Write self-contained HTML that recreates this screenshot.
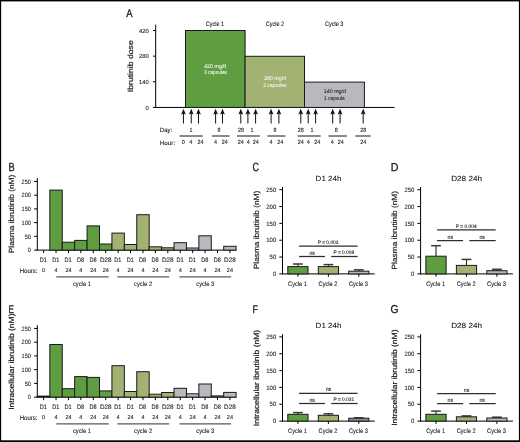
<!DOCTYPE html>
<html><head><meta charset="utf-8"><style>
html,body{margin:0;padding:0;background:#fff;width:520px;height:442px;overflow:hidden}
svg{display:block;will-change:transform;text-rendering:geometricPrecision}
text{font-family:"Liberation Sans", sans-serif}
</style></head><body>
<svg width="520" height="442" viewBox="0 0 520 442">
<rect width="520" height="442" fill="#fff"/>
<rect x="0" y="0" width="520" height="1.4" fill="#000"/>
<rect x="0" y="0" width="1.15" height="442" fill="#000"/>
<rect x="518.9" y="0" width="1.1" height="442" fill="#000"/>
<rect x="0" y="440.3" width="520" height="1.7" fill="#000"/>
<text x="126.18" y="17" font-size="11.19" fill="#1a1a1a" textLength="6.24" lengthAdjust="spacingAndGlyphs" stroke="#1a1a1a" stroke-width="0.3">A</text>
<text x="8.54" y="170.6" font-size="11.77" fill="#1a1a1a" textLength="6.14" lengthAdjust="spacingAndGlyphs" stroke="#1a1a1a" stroke-width="0.3">B</text>
<text x="252.44" y="170.68" font-size="12.01" fill="#1a1a1a" textLength="6.5" lengthAdjust="spacingAndGlyphs" stroke="#1a1a1a" stroke-width="0.3">C</text>
<text x="390.63" y="170.6" font-size="11.48" fill="#1a1a1a" textLength="7.68" lengthAdjust="spacingAndGlyphs" stroke="#1a1a1a" stroke-width="0.3">D</text>
<text x="8.53" y="312.6" font-size="10.9" fill="#1a1a1a" textLength="5.41" lengthAdjust="spacingAndGlyphs" stroke="#1a1a1a" stroke-width="0.3">E</text>
<text x="252.46" y="312.6" font-size="10.9" fill="#1a1a1a" textLength="5.5" lengthAdjust="spacingAndGlyphs" stroke="#1a1a1a" stroke-width="0.3">F</text>
<text x="390.58" y="312.69" font-size="11.44" fill="#1a1a1a" textLength="7.98" lengthAdjust="spacingAndGlyphs" stroke="#1a1a1a" stroke-width="0.3">G</text>
<line x1="155.7" y1="24.7" x2="155.7" y2="107.95" stroke="#000" stroke-width="1"/>
<line x1="155.2" y1="107.45" x2="394.5" y2="107.45" stroke="#000" stroke-width="1"/>
<line x1="153" y1="107.45" x2="155.7" y2="107.45" stroke="#000" stroke-width="1"/>
<text x="148.8" y="109.65" font-size="5.9" text-anchor="end" fill="#1a1a1a" textLength="3.24" lengthAdjust="spacingAndGlyphs" stroke="#1a1a1a" stroke-width="0.1">0</text>
<line x1="153" y1="81.8" x2="155.7" y2="81.8" stroke="#000" stroke-width="1"/>
<text x="148.8" y="84" font-size="5.9" text-anchor="end" fill="#1a1a1a" textLength="9.72" lengthAdjust="spacingAndGlyphs" stroke="#1a1a1a" stroke-width="0.1">140</text>
<line x1="153" y1="56.15" x2="155.7" y2="56.15" stroke="#000" stroke-width="1"/>
<text x="148.8" y="58.35" font-size="5.9" text-anchor="end" fill="#1a1a1a" textLength="9.72" lengthAdjust="spacingAndGlyphs" stroke="#1a1a1a" stroke-width="0.1">280</text>
<line x1="153" y1="30.5" x2="155.7" y2="30.5" stroke="#000" stroke-width="1"/>
<text x="148.8" y="32.7" font-size="5.9" text-anchor="end" fill="#1a1a1a" textLength="9.72" lengthAdjust="spacingAndGlyphs" stroke="#1a1a1a" stroke-width="0.1">420</text>
<text x="132.6" y="92.2" font-size="7.5" fill="#1a1a1a" textLength="51.9" lengthAdjust="spacingAndGlyphs" transform="rotate(-90 132.6 92.2)" stroke="#1a1a1a" stroke-width="0.18">Ibrutinib dose</text>
<rect x="185.5" y="30.5" width="59.6" height="76.95" fill="#5f9e40" stroke="#1a1a1a" stroke-width="1"/>
<rect x="245.1" y="56.3" width="59.4" height="51.15" fill="#a1b273" stroke="#1a1a1a" stroke-width="1"/>
<rect x="304.5" y="82.1" width="59.9" height="25.35" fill="#bab7be" stroke="#1a1a1a" stroke-width="1"/>
<text x="214.93" y="25.78" font-size="6.3" text-anchor="middle" fill="#1a1a1a" textLength="18.4" lengthAdjust="spacingAndGlyphs" stroke="#1a1a1a" stroke-width="0.1">Cycle 1</text>
<text x="274.9" y="25.78" font-size="6.3" text-anchor="middle" fill="#1a1a1a" textLength="18.4" lengthAdjust="spacingAndGlyphs" stroke="#1a1a1a" stroke-width="0.1">Cycle 2</text>
<text x="334.2" y="25.78" font-size="6.3" text-anchor="middle" fill="#1a1a1a" textLength="18.4" lengthAdjust="spacingAndGlyphs" stroke="#1a1a1a" stroke-width="0.1">Cycle 3</text>
<text x="215.24" y="67.9" font-size="5.4" text-anchor="middle" fill="#eef2e8" textLength="22.2" lengthAdjust="spacingAndGlyphs" stroke="#eef2e8" stroke-width="0.1">420 mg/d</text>
<text x="215.5" y="74.1" font-size="5.4" text-anchor="middle" fill="#eef2e8" textLength="22.9" lengthAdjust="spacingAndGlyphs" stroke="#eef2e8" stroke-width="0.1">3 capsules</text>
<text x="275.1" y="80.3" font-size="5.4" text-anchor="middle" fill="#eef2e8" textLength="22.2" lengthAdjust="spacingAndGlyphs" stroke="#eef2e8" stroke-width="0.1">280 mg/d</text>
<text x="274.9" y="86.55" font-size="5.4" text-anchor="middle" fill="#eef2e8" textLength="23.2" lengthAdjust="spacingAndGlyphs" stroke="#eef2e8" stroke-width="0.1">2 capsules</text>
<text x="334.9" y="93.3" font-size="5.4" text-anchor="middle" fill="#2a2a2a" textLength="22.2" lengthAdjust="spacingAndGlyphs" stroke="#2a2a2a" stroke-width="0.1">140 mg/d</text>
<text x="334.4" y="99.55" font-size="5.4" text-anchor="middle" fill="#2a2a2a" textLength="20.8" lengthAdjust="spacingAndGlyphs" stroke="#2a2a2a" stroke-width="0.1">1 capsule</text>
<line x1="183.45" y1="113" x2="183.45" y2="123.5" stroke="#111" stroke-width="1"/>
<path d="M183.45 108.8 L185.85 114.6 L183.45 113.4 L181.05 114.6 Z" fill="#111"/>
<line x1="191.24" y1="113" x2="191.24" y2="123.5" stroke="#111" stroke-width="1"/>
<path d="M191.24 108.8 L193.64 114.6 L191.24 113.4 L188.84 114.6 Z" fill="#111"/>
<line x1="198.5" y1="113" x2="198.5" y2="123.5" stroke="#111" stroke-width="1"/>
<path d="M198.5 108.8 L200.90 114.6 L198.5 113.4 L196.10 114.6 Z" fill="#111"/>
<line x1="215.6" y1="113" x2="215.6" y2="123.5" stroke="#111" stroke-width="1"/>
<path d="M215.6 108.8 L218.00 114.6 L215.6 113.4 L213.20 114.6 Z" fill="#111"/>
<line x1="222.5" y1="113" x2="222.5" y2="123.5" stroke="#111" stroke-width="1"/>
<path d="M222.5 108.8 L224.90 114.6 L222.5 113.4 L220.10 114.6 Z" fill="#111"/>
<line x1="240.8" y1="113" x2="240.8" y2="123.5" stroke="#111" stroke-width="1"/>
<path d="M240.8 108.8 L243.20 114.6 L240.8 113.4 L238.40 114.6 Z" fill="#111"/>
<line x1="247.9" y1="113" x2="247.9" y2="123.5" stroke="#111" stroke-width="1"/>
<path d="M247.9 108.8 L250.30 114.6 L247.9 113.4 L245.50 114.6 Z" fill="#111"/>
<line x1="255.6" y1="113" x2="255.6" y2="123.5" stroke="#111" stroke-width="1"/>
<path d="M255.6 108.8 L258.00 114.6 L255.6 113.4 L253.20 114.6 Z" fill="#111"/>
<line x1="271.1" y1="113" x2="271.1" y2="123.5" stroke="#111" stroke-width="1"/>
<path d="M271.1 108.8 L273.50 114.6 L271.1 113.4 L268.70 114.6 Z" fill="#111"/>
<line x1="278.9" y1="113" x2="278.9" y2="123.5" stroke="#111" stroke-width="1"/>
<path d="M278.9 108.8 L281.30 114.6 L278.9 113.4 L276.50 114.6 Z" fill="#111"/>
<line x1="300.8" y1="113" x2="300.8" y2="123.5" stroke="#111" stroke-width="1"/>
<path d="M300.8 108.8 L303.20 114.6 L300.8 113.4 L298.40 114.6 Z" fill="#111"/>
<line x1="308.2" y1="113" x2="308.2" y2="123.5" stroke="#111" stroke-width="1"/>
<path d="M308.2 108.8 L310.60 114.6 L308.2 113.4 L305.80 114.6 Z" fill="#111"/>
<line x1="315.6" y1="113" x2="315.6" y2="123.5" stroke="#111" stroke-width="1"/>
<path d="M315.6 108.8 L318.00 114.6 L315.6 113.4 L313.20 114.6 Z" fill="#111"/>
<line x1="332.7" y1="113" x2="332.7" y2="123.5" stroke="#111" stroke-width="1"/>
<path d="M332.7 108.8 L335.10 114.6 L332.7 113.4 L330.30 114.6 Z" fill="#111"/>
<line x1="340.1" y1="113" x2="340.1" y2="123.5" stroke="#111" stroke-width="1"/>
<path d="M340.1 108.8 L342.50 114.6 L340.1 113.4 L337.70 114.6 Z" fill="#111"/>
<line x1="363.2" y1="113" x2="363.2" y2="123.5" stroke="#111" stroke-width="1"/>
<path d="M363.2 108.8 L365.60 114.6 L363.2 113.4 L360.80 114.6 Z" fill="#111"/>
<text x="159.83" y="132.17" font-size="6.2" fill="#1a1a1a" textLength="12.3" lengthAdjust="spacingAndGlyphs" stroke="#1a1a1a" stroke-width="0.1">Day:</text>
<text x="159.81" y="144.52" font-size="6" fill="#1a1a1a" textLength="15.35" lengthAdjust="spacingAndGlyphs" stroke="#1a1a1a" stroke-width="0.1">Hour:</text>
<text x="191" y="132.05" font-size="6" text-anchor="middle" fill="#1a1a1a" textLength="3" lengthAdjust="spacingAndGlyphs" stroke="#1a1a1a" stroke-width="0.1">1</text>
<text x="219" y="132.05" font-size="6" text-anchor="middle" fill="#1a1a1a" textLength="3" lengthAdjust="spacingAndGlyphs" stroke="#1a1a1a" stroke-width="0.1">8</text>
<text x="240.93" y="132.05" font-size="6" text-anchor="middle" fill="#1a1a1a" textLength="6" lengthAdjust="spacingAndGlyphs" stroke="#1a1a1a" stroke-width="0.1">28</text>
<text x="251.9" y="132.05" font-size="6" text-anchor="middle" fill="#1a1a1a" textLength="3" lengthAdjust="spacingAndGlyphs" stroke="#1a1a1a" stroke-width="0.1">1</text>
<text x="275" y="132.05" font-size="6" text-anchor="middle" fill="#1a1a1a" textLength="3" lengthAdjust="spacingAndGlyphs" stroke="#1a1a1a" stroke-width="0.1">8</text>
<text x="300.8" y="132.05" font-size="6" text-anchor="middle" fill="#1a1a1a" textLength="6" lengthAdjust="spacingAndGlyphs" stroke="#1a1a1a" stroke-width="0.1">28</text>
<text x="311.9" y="132.05" font-size="6" text-anchor="middle" fill="#1a1a1a" textLength="3" lengthAdjust="spacingAndGlyphs" stroke="#1a1a1a" stroke-width="0.1">1</text>
<text x="336.2" y="132.05" font-size="6" text-anchor="middle" fill="#1a1a1a" textLength="3" lengthAdjust="spacingAndGlyphs" stroke="#1a1a1a" stroke-width="0.1">8</text>
<text x="363.2" y="132.05" font-size="6" text-anchor="middle" fill="#1a1a1a" textLength="6" lengthAdjust="spacingAndGlyphs" stroke="#1a1a1a" stroke-width="0.1">28</text>
<text x="183.3" y="144.35" font-size="6" text-anchor="middle" fill="#1a1a1a" textLength="3" lengthAdjust="spacingAndGlyphs" stroke="#1a1a1a" stroke-width="0.1">0</text>
<text x="190.8" y="144.35" font-size="6" text-anchor="middle" fill="#1a1a1a" textLength="3" lengthAdjust="spacingAndGlyphs" stroke="#1a1a1a" stroke-width="0.1">4</text>
<text x="200.4" y="144.35" font-size="6" text-anchor="middle" fill="#1a1a1a" textLength="6" lengthAdjust="spacingAndGlyphs" stroke="#1a1a1a" stroke-width="0.1">24</text>
<text x="215.6" y="144.35" font-size="6" text-anchor="middle" fill="#1a1a1a" textLength="3" lengthAdjust="spacingAndGlyphs" stroke="#1a1a1a" stroke-width="0.1">4</text>
<text x="224.8" y="144.35" font-size="6" text-anchor="middle" fill="#1a1a1a" textLength="6" lengthAdjust="spacingAndGlyphs" stroke="#1a1a1a" stroke-width="0.1">24</text>
<text x="240.8" y="144.35" font-size="6" text-anchor="middle" fill="#1a1a1a" textLength="6" lengthAdjust="spacingAndGlyphs" stroke="#1a1a1a" stroke-width="0.1">24</text>
<text x="248.3" y="144.35" font-size="6" text-anchor="middle" fill="#1a1a1a" textLength="3" lengthAdjust="spacingAndGlyphs" stroke="#1a1a1a" stroke-width="0.1">4</text>
<text x="255.8" y="144.35" font-size="6" text-anchor="middle" fill="#1a1a1a" textLength="6" lengthAdjust="spacingAndGlyphs" stroke="#1a1a1a" stroke-width="0.1">24</text>
<text x="271" y="144.35" font-size="6" text-anchor="middle" fill="#1a1a1a" textLength="3" lengthAdjust="spacingAndGlyphs" stroke="#1a1a1a" stroke-width="0.1">4</text>
<text x="280.3" y="144.35" font-size="6" text-anchor="middle" fill="#1a1a1a" textLength="6" lengthAdjust="spacingAndGlyphs" stroke="#1a1a1a" stroke-width="0.1">24</text>
<text x="300.8" y="144.35" font-size="6" text-anchor="middle" fill="#1a1a1a" textLength="6" lengthAdjust="spacingAndGlyphs" stroke="#1a1a1a" stroke-width="0.1">24</text>
<text x="308.2" y="144.35" font-size="6" text-anchor="middle" fill="#1a1a1a" textLength="3" lengthAdjust="spacingAndGlyphs" stroke="#1a1a1a" stroke-width="0.1">4</text>
<text x="317.2" y="144.35" font-size="6" text-anchor="middle" fill="#1a1a1a" textLength="6" lengthAdjust="spacingAndGlyphs" stroke="#1a1a1a" stroke-width="0.1">24</text>
<text x="332.2" y="144.35" font-size="6" text-anchor="middle" fill="#1a1a1a" textLength="3" lengthAdjust="spacingAndGlyphs" stroke="#1a1a1a" stroke-width="0.1">4</text>
<text x="340.8" y="144.35" font-size="6" text-anchor="middle" fill="#1a1a1a" textLength="6" lengthAdjust="spacingAndGlyphs" stroke="#1a1a1a" stroke-width="0.1">24</text>
<text x="363.2" y="144.35" font-size="6" text-anchor="middle" fill="#1a1a1a" textLength="6" lengthAdjust="spacingAndGlyphs" stroke="#1a1a1a" stroke-width="0.1">24</text>
<line x1="179.5" y1="136" x2="202.8" y2="136" stroke="#5a5a5a" stroke-width="1.4"/>
<line x1="211.9" y1="136" x2="229.6" y2="136" stroke="#5a5a5a" stroke-width="1.4"/>
<line x1="237" y1="136" x2="259.8" y2="136" stroke="#5a5a5a" stroke-width="1.4"/>
<line x1="267.4" y1="136" x2="285.4" y2="136" stroke="#5a5a5a" stroke-width="1.4"/>
<line x1="297.6" y1="136" x2="320.7" y2="136" stroke="#5a5a5a" stroke-width="1.4"/>
<line x1="328.5" y1="136" x2="347" y2="136" stroke="#5a5a5a" stroke-width="1.4"/>
<line x1="355.3" y1="136" x2="370.8" y2="136" stroke="#5a5a5a" stroke-width="1.4"/>
<line x1="37.3" y1="178.2" x2="37.3" y2="250.6" stroke="#000" stroke-width="1"/>
<line x1="36.8" y1="250.1" x2="236.3" y2="250.1" stroke="#000" stroke-width="1"/>
<line x1="34.1" y1="250.1" x2="37.3" y2="250.1" stroke="#000" stroke-width="1"/>
<text x="30.86" y="252.25" font-size="6.25" text-anchor="end" fill="#1a1a1a" textLength="3.1" lengthAdjust="spacingAndGlyphs" stroke="#1a1a1a" stroke-width="0.1">0</text>
<line x1="34.1" y1="236.37" x2="37.3" y2="236.37" stroke="#000" stroke-width="1"/>
<text x="30.86" y="238.52" font-size="6.25" text-anchor="end" fill="#1a1a1a" textLength="6.2" lengthAdjust="spacingAndGlyphs" stroke="#1a1a1a" stroke-width="0.1">50</text>
<line x1="34.1" y1="222.64" x2="37.3" y2="222.64" stroke="#000" stroke-width="1"/>
<text x="30.86" y="224.79" font-size="6.25" text-anchor="end" fill="#1a1a1a" textLength="9.3" lengthAdjust="spacingAndGlyphs" stroke="#1a1a1a" stroke-width="0.1">100</text>
<line x1="34.1" y1="208.91" x2="37.3" y2="208.91" stroke="#000" stroke-width="1"/>
<text x="30.86" y="211.06" font-size="6.25" text-anchor="end" fill="#1a1a1a" textLength="9.3" lengthAdjust="spacingAndGlyphs" stroke="#1a1a1a" stroke-width="0.1">150</text>
<line x1="34.1" y1="195.18" x2="37.3" y2="195.18" stroke="#000" stroke-width="1"/>
<text x="30.86" y="197.33" font-size="6.25" text-anchor="end" fill="#1a1a1a" textLength="9.3" lengthAdjust="spacingAndGlyphs" stroke="#1a1a1a" stroke-width="0.1">200</text>
<line x1="34.1" y1="181.45" x2="37.3" y2="181.45" stroke="#000" stroke-width="1"/>
<text x="30.86" y="183.6" font-size="6.25" text-anchor="end" fill="#1a1a1a" textLength="9.3" lengthAdjust="spacingAndGlyphs" stroke="#1a1a1a" stroke-width="0.1">250</text>
<text x="14.2" y="253.2" font-size="7.5" fill="#1a1a1a" textLength="78.4" lengthAdjust="spacingAndGlyphs" transform="rotate(-90 14.2 253.2)" stroke="#1a1a1a" stroke-width="0.18">Plasma ibrutinib (nM)</text>
<rect x="49.82" y="190.1" width="12.42" height="60" fill="#5f9e40" stroke="#1a1a1a" stroke-width="1"/>
<rect x="62.24" y="242.2" width="12.42" height="7.9" fill="#5f9e40" stroke="#1a1a1a" stroke-width="1"/>
<rect x="74.66" y="240.4" width="12.42" height="9.7" fill="#5f9e40" stroke="#1a1a1a" stroke-width="1"/>
<rect x="87.08" y="225.9" width="12.42" height="24.2" fill="#5f9e40" stroke="#1a1a1a" stroke-width="1"/>
<rect x="99.5" y="244" width="12.42" height="6.1" fill="#5f9e40" stroke="#1a1a1a" stroke-width="1"/>
<rect x="111.92" y="233.1" width="12.42" height="17" fill="#a1b273" stroke="#1a1a1a" stroke-width="1"/>
<rect x="124.34" y="244.5" width="12.42" height="5.6" fill="#a1b273" stroke="#1a1a1a" stroke-width="1"/>
<rect x="136.76" y="214.7" width="12.42" height="35.4" fill="#a1b273" stroke="#1a1a1a" stroke-width="1"/>
<rect x="149.18" y="246.8" width="12.42" height="3.3" fill="#a1b273" stroke="#1a1a1a" stroke-width="1"/>
<rect x="161.6" y="247.8" width="12.42" height="2.3" fill="#a1b273" stroke="#1a1a1a" stroke-width="1"/>
<rect x="174.02" y="242.7" width="12.42" height="7.4" fill="#bab7be" stroke="#1a1a1a" stroke-width="1"/>
<rect x="186.44" y="248" width="12.42" height="2.1" fill="#bab7be" stroke="#1a1a1a" stroke-width="1"/>
<rect x="198.86" y="235.8" width="12.42" height="14.3" fill="#bab7be" stroke="#1a1a1a" stroke-width="1"/>
<rect x="223.7" y="246.3" width="12.42" height="3.8" fill="#bab7be" stroke="#1a1a1a" stroke-width="1"/>
<line x1="43.61" y1="250.1" x2="43.61" y2="253.1" stroke="#000" stroke-width="1"/>
<text x="43.31" y="261.85" font-size="6.4" text-anchor="middle" fill="#1a1a1a" textLength="7.1" lengthAdjust="spacingAndGlyphs" stroke="#1a1a1a" stroke-width="0.1">D1</text>
<text x="43.61" y="271.95" font-size="5.8" text-anchor="middle" fill="#1a1a1a" textLength="3.07" lengthAdjust="spacingAndGlyphs" stroke="#1a1a1a" stroke-width="0.1">0</text>
<line x1="56.03" y1="250.1" x2="56.03" y2="253.1" stroke="#000" stroke-width="1"/>
<text x="55.73" y="261.85" font-size="6.4" text-anchor="middle" fill="#1a1a1a" textLength="7.1" lengthAdjust="spacingAndGlyphs" stroke="#1a1a1a" stroke-width="0.1">D1</text>
<text x="56.03" y="271.95" font-size="5.8" text-anchor="middle" fill="#1a1a1a" textLength="3.07" lengthAdjust="spacingAndGlyphs" stroke="#1a1a1a" stroke-width="0.1">4</text>
<line x1="68.45" y1="250.1" x2="68.45" y2="253.1" stroke="#000" stroke-width="1"/>
<text x="68.15" y="261.85" font-size="6.4" text-anchor="middle" fill="#1a1a1a" textLength="7.1" lengthAdjust="spacingAndGlyphs" stroke="#1a1a1a" stroke-width="0.1">D1</text>
<text x="68.45" y="271.95" font-size="5.8" text-anchor="middle" fill="#1a1a1a" textLength="6.14" lengthAdjust="spacingAndGlyphs" stroke="#1a1a1a" stroke-width="0.1">24</text>
<line x1="80.87" y1="250.1" x2="80.87" y2="253.1" stroke="#000" stroke-width="1"/>
<text x="80.57" y="261.85" font-size="6.4" text-anchor="middle" fill="#1a1a1a" textLength="7.1" lengthAdjust="spacingAndGlyphs" stroke="#1a1a1a" stroke-width="0.1">D8</text>
<text x="80.87" y="271.95" font-size="5.8" text-anchor="middle" fill="#1a1a1a" textLength="3.07" lengthAdjust="spacingAndGlyphs" stroke="#1a1a1a" stroke-width="0.1">4</text>
<line x1="93.29" y1="250.1" x2="93.29" y2="253.1" stroke="#000" stroke-width="1"/>
<text x="92.99" y="261.85" font-size="6.4" text-anchor="middle" fill="#1a1a1a" textLength="7.1" lengthAdjust="spacingAndGlyphs" stroke="#1a1a1a" stroke-width="0.1">D8</text>
<text x="93.29" y="271.95" font-size="5.8" text-anchor="middle" fill="#1a1a1a" textLength="6.14" lengthAdjust="spacingAndGlyphs" stroke="#1a1a1a" stroke-width="0.1">24</text>
<line x1="105.71" y1="250.1" x2="105.71" y2="253.1" stroke="#000" stroke-width="1"/>
<text x="105.71" y="261.85" font-size="6.4" text-anchor="middle" fill="#1a1a1a" textLength="11.66" lengthAdjust="spacingAndGlyphs" stroke="#1a1a1a" stroke-width="0.1">D28</text>
<text x="105.71" y="271.95" font-size="5.8" text-anchor="middle" fill="#1a1a1a" textLength="6.14" lengthAdjust="spacingAndGlyphs" stroke="#1a1a1a" stroke-width="0.1">24</text>
<line x1="118.13" y1="250.1" x2="118.13" y2="253.1" stroke="#000" stroke-width="1"/>
<text x="117.83" y="261.85" font-size="6.4" text-anchor="middle" fill="#1a1a1a" textLength="7.1" lengthAdjust="spacingAndGlyphs" stroke="#1a1a1a" stroke-width="0.1">D1</text>
<text x="118.13" y="271.95" font-size="5.8" text-anchor="middle" fill="#1a1a1a" textLength="3.07" lengthAdjust="spacingAndGlyphs" stroke="#1a1a1a" stroke-width="0.1">4</text>
<line x1="130.55" y1="250.1" x2="130.55" y2="253.1" stroke="#000" stroke-width="1"/>
<text x="130.25" y="261.85" font-size="6.4" text-anchor="middle" fill="#1a1a1a" textLength="7.1" lengthAdjust="spacingAndGlyphs" stroke="#1a1a1a" stroke-width="0.1">D1</text>
<text x="130.55" y="271.95" font-size="5.8" text-anchor="middle" fill="#1a1a1a" textLength="6.14" lengthAdjust="spacingAndGlyphs" stroke="#1a1a1a" stroke-width="0.1">24</text>
<line x1="142.97" y1="250.1" x2="142.97" y2="253.1" stroke="#000" stroke-width="1"/>
<text x="142.67" y="261.85" font-size="6.4" text-anchor="middle" fill="#1a1a1a" textLength="7.1" lengthAdjust="spacingAndGlyphs" stroke="#1a1a1a" stroke-width="0.1">D8</text>
<text x="142.97" y="271.95" font-size="5.8" text-anchor="middle" fill="#1a1a1a" textLength="3.07" lengthAdjust="spacingAndGlyphs" stroke="#1a1a1a" stroke-width="0.1">4</text>
<line x1="155.39" y1="250.1" x2="155.39" y2="253.1" stroke="#000" stroke-width="1"/>
<text x="155.09" y="261.85" font-size="6.4" text-anchor="middle" fill="#1a1a1a" textLength="7.1" lengthAdjust="spacingAndGlyphs" stroke="#1a1a1a" stroke-width="0.1">D8</text>
<text x="155.39" y="271.95" font-size="5.8" text-anchor="middle" fill="#1a1a1a" textLength="6.14" lengthAdjust="spacingAndGlyphs" stroke="#1a1a1a" stroke-width="0.1">24</text>
<line x1="167.81" y1="250.1" x2="167.81" y2="253.1" stroke="#000" stroke-width="1"/>
<text x="167.81" y="261.85" font-size="6.4" text-anchor="middle" fill="#1a1a1a" textLength="11.66" lengthAdjust="spacingAndGlyphs" stroke="#1a1a1a" stroke-width="0.1">D28</text>
<text x="167.81" y="271.95" font-size="5.8" text-anchor="middle" fill="#1a1a1a" textLength="6.14" lengthAdjust="spacingAndGlyphs" stroke="#1a1a1a" stroke-width="0.1">24</text>
<line x1="180.23" y1="250.1" x2="180.23" y2="253.1" stroke="#000" stroke-width="1"/>
<text x="179.93" y="261.85" font-size="6.4" text-anchor="middle" fill="#1a1a1a" textLength="7.1" lengthAdjust="spacingAndGlyphs" stroke="#1a1a1a" stroke-width="0.1">D1</text>
<text x="180.23" y="271.95" font-size="5.8" text-anchor="middle" fill="#1a1a1a" textLength="3.07" lengthAdjust="spacingAndGlyphs" stroke="#1a1a1a" stroke-width="0.1">4</text>
<line x1="192.65" y1="250.1" x2="192.65" y2="253.1" stroke="#000" stroke-width="1"/>
<text x="192.35" y="261.85" font-size="6.4" text-anchor="middle" fill="#1a1a1a" textLength="7.1" lengthAdjust="spacingAndGlyphs" stroke="#1a1a1a" stroke-width="0.1">D1</text>
<text x="192.65" y="271.95" font-size="5.8" text-anchor="middle" fill="#1a1a1a" textLength="6.14" lengthAdjust="spacingAndGlyphs" stroke="#1a1a1a" stroke-width="0.1">24</text>
<line x1="205.07" y1="250.1" x2="205.07" y2="253.1" stroke="#000" stroke-width="1"/>
<text x="204.77" y="261.85" font-size="6.4" text-anchor="middle" fill="#1a1a1a" textLength="7.1" lengthAdjust="spacingAndGlyphs" stroke="#1a1a1a" stroke-width="0.1">D8</text>
<text x="205.07" y="271.95" font-size="5.8" text-anchor="middle" fill="#1a1a1a" textLength="3.07" lengthAdjust="spacingAndGlyphs" stroke="#1a1a1a" stroke-width="0.1">4</text>
<line x1="217.49" y1="250.1" x2="217.49" y2="253.1" stroke="#000" stroke-width="1"/>
<text x="217.19" y="261.85" font-size="6.4" text-anchor="middle" fill="#1a1a1a" textLength="7.1" lengthAdjust="spacingAndGlyphs" stroke="#1a1a1a" stroke-width="0.1">D8</text>
<text x="217.49" y="271.95" font-size="5.8" text-anchor="middle" fill="#1a1a1a" textLength="6.14" lengthAdjust="spacingAndGlyphs" stroke="#1a1a1a" stroke-width="0.1">24</text>
<line x1="229.91" y1="250.1" x2="229.91" y2="253.1" stroke="#000" stroke-width="1"/>
<text x="229.91" y="261.85" font-size="6.4" text-anchor="middle" fill="#1a1a1a" textLength="11.66" lengthAdjust="spacingAndGlyphs" stroke="#1a1a1a" stroke-width="0.1">D28</text>
<text x="229.91" y="271.95" font-size="5.8" text-anchor="middle" fill="#1a1a1a" textLength="6.14" lengthAdjust="spacingAndGlyphs" stroke="#1a1a1a" stroke-width="0.1">24</text>
<text x="37.53" y="272.6" font-size="6.5" text-anchor="end" fill="#1a1a1a" textLength="17.85" lengthAdjust="spacingAndGlyphs" stroke="#1a1a1a" stroke-width="0.1">Hours:</text>
<line x1="56.3" y1="276.9" x2="108.7" y2="276.9" stroke="#5a5a5a" stroke-width="1.4"/>
<text x="81.95" y="286.03" font-size="6.5" text-anchor="middle" fill="#1a1a1a" textLength="18.03" lengthAdjust="spacingAndGlyphs" stroke="#1a1a1a" stroke-width="0.1">cycle 1</text>
<line x1="117.3" y1="276.9" x2="169.2" y2="276.9" stroke="#5a5a5a" stroke-width="1.4"/>
<text x="143.1" y="286.03" font-size="6.5" text-anchor="middle" fill="#1a1a1a" textLength="18.03" lengthAdjust="spacingAndGlyphs" stroke="#1a1a1a" stroke-width="0.1">cycle 2</text>
<line x1="179.5" y1="276.9" x2="231.1" y2="276.9" stroke="#5a5a5a" stroke-width="1.4"/>
<text x="205.3" y="286.03" font-size="6.5" text-anchor="middle" fill="#1a1a1a" textLength="18.03" lengthAdjust="spacingAndGlyphs" stroke="#1a1a1a" stroke-width="0.1">cycle 3</text>
<line x1="37.3" y1="325.2" x2="37.3" y2="397.6" stroke="#000" stroke-width="1"/>
<line x1="36.8" y1="397.1" x2="236.3" y2="397.1" stroke="#000" stroke-width="1"/>
<line x1="34.1" y1="397.1" x2="37.3" y2="397.1" stroke="#000" stroke-width="1"/>
<text x="30.86" y="399.25" font-size="6.25" text-anchor="end" fill="#1a1a1a" textLength="3.1" lengthAdjust="spacingAndGlyphs" stroke="#1a1a1a" stroke-width="0.1">0</text>
<line x1="34.1" y1="383.37" x2="37.3" y2="383.37" stroke="#000" stroke-width="1"/>
<text x="30.86" y="385.52" font-size="6.25" text-anchor="end" fill="#1a1a1a" textLength="6.2" lengthAdjust="spacingAndGlyphs" stroke="#1a1a1a" stroke-width="0.1">50</text>
<line x1="34.1" y1="369.64" x2="37.3" y2="369.64" stroke="#000" stroke-width="1"/>
<text x="30.86" y="371.79" font-size="6.25" text-anchor="end" fill="#1a1a1a" textLength="9.3" lengthAdjust="spacingAndGlyphs" stroke="#1a1a1a" stroke-width="0.1">100</text>
<line x1="34.1" y1="355.91" x2="37.3" y2="355.91" stroke="#000" stroke-width="1"/>
<text x="30.86" y="358.06" font-size="6.25" text-anchor="end" fill="#1a1a1a" textLength="9.3" lengthAdjust="spacingAndGlyphs" stroke="#1a1a1a" stroke-width="0.1">150</text>
<line x1="34.1" y1="342.18" x2="37.3" y2="342.18" stroke="#000" stroke-width="1"/>
<text x="30.86" y="344.33" font-size="6.25" text-anchor="end" fill="#1a1a1a" textLength="9.3" lengthAdjust="spacingAndGlyphs" stroke="#1a1a1a" stroke-width="0.1">200</text>
<line x1="34.1" y1="328.45" x2="37.3" y2="328.45" stroke="#000" stroke-width="1"/>
<text x="30.86" y="330.6" font-size="6.25" text-anchor="end" fill="#1a1a1a" textLength="9.3" lengthAdjust="spacingAndGlyphs" stroke="#1a1a1a" stroke-width="0.1">250</text>
<text x="14.2" y="409.8" font-size="7.5" fill="#1a1a1a" textLength="96.4" lengthAdjust="spacingAndGlyphs" transform="rotate(-90 14.2 409.8)" stroke="#1a1a1a" stroke-width="0.18">Intracellular ibrutinib (nM)</text>
<rect x="37.4" y="396.1" width="12.42" height="1" fill="#5f9e40" stroke="#1a1a1a" stroke-width="1"/>
<rect x="49.82" y="344.5" width="12.42" height="52.6" fill="#5f9e40" stroke="#1a1a1a" stroke-width="1"/>
<rect x="62.24" y="388.7" width="12.42" height="8.4" fill="#5f9e40" stroke="#1a1a1a" stroke-width="1"/>
<rect x="74.66" y="376.6" width="12.42" height="20.5" fill="#5f9e40" stroke="#1a1a1a" stroke-width="1"/>
<rect x="87.08" y="377.4" width="12.42" height="19.7" fill="#5f9e40" stroke="#1a1a1a" stroke-width="1"/>
<rect x="99.5" y="390.9" width="12.42" height="6.2" fill="#5f9e40" stroke="#1a1a1a" stroke-width="1"/>
<rect x="111.92" y="365.7" width="12.42" height="31.4" fill="#a1b273" stroke="#1a1a1a" stroke-width="1"/>
<rect x="124.34" y="391.5" width="12.42" height="5.6" fill="#a1b273" stroke="#1a1a1a" stroke-width="1"/>
<rect x="136.76" y="371.7" width="12.42" height="25.4" fill="#a1b273" stroke="#1a1a1a" stroke-width="1"/>
<rect x="149.18" y="394.2" width="12.42" height="2.9" fill="#a1b273" stroke="#1a1a1a" stroke-width="1"/>
<rect x="161.6" y="392.5" width="12.42" height="4.6" fill="#a1b273" stroke="#1a1a1a" stroke-width="1"/>
<rect x="174.02" y="388.3" width="12.42" height="8.8" fill="#bab7be" stroke="#1a1a1a" stroke-width="1"/>
<rect x="186.44" y="393.8" width="12.42" height="3.3" fill="#bab7be" stroke="#1a1a1a" stroke-width="1"/>
<rect x="198.86" y="384" width="12.42" height="13.1" fill="#bab7be" stroke="#1a1a1a" stroke-width="1"/>
<rect x="211.28" y="395.9" width="12.42" height="1.2" fill="#bab7be" stroke="#1a1a1a" stroke-width="1"/>
<rect x="223.7" y="392.4" width="12.42" height="4.7" fill="#bab7be" stroke="#1a1a1a" stroke-width="1"/>
<line x1="43.61" y1="397.1" x2="43.61" y2="400.1" stroke="#000" stroke-width="1"/>
<text x="43.31" y="408.85" font-size="6.4" text-anchor="middle" fill="#1a1a1a" textLength="7.1" lengthAdjust="spacingAndGlyphs" stroke="#1a1a1a" stroke-width="0.1">D1</text>
<text x="43.61" y="418.95" font-size="5.8" text-anchor="middle" fill="#1a1a1a" textLength="3.07" lengthAdjust="spacingAndGlyphs" stroke="#1a1a1a" stroke-width="0.1">0</text>
<line x1="56.03" y1="397.1" x2="56.03" y2="400.1" stroke="#000" stroke-width="1"/>
<text x="55.73" y="408.85" font-size="6.4" text-anchor="middle" fill="#1a1a1a" textLength="7.1" lengthAdjust="spacingAndGlyphs" stroke="#1a1a1a" stroke-width="0.1">D1</text>
<text x="56.03" y="418.95" font-size="5.8" text-anchor="middle" fill="#1a1a1a" textLength="3.07" lengthAdjust="spacingAndGlyphs" stroke="#1a1a1a" stroke-width="0.1">4</text>
<line x1="68.45" y1="397.1" x2="68.45" y2="400.1" stroke="#000" stroke-width="1"/>
<text x="68.15" y="408.85" font-size="6.4" text-anchor="middle" fill="#1a1a1a" textLength="7.1" lengthAdjust="spacingAndGlyphs" stroke="#1a1a1a" stroke-width="0.1">D1</text>
<text x="68.45" y="418.95" font-size="5.8" text-anchor="middle" fill="#1a1a1a" textLength="6.14" lengthAdjust="spacingAndGlyphs" stroke="#1a1a1a" stroke-width="0.1">24</text>
<line x1="80.87" y1="397.1" x2="80.87" y2="400.1" stroke="#000" stroke-width="1"/>
<text x="80.57" y="408.85" font-size="6.4" text-anchor="middle" fill="#1a1a1a" textLength="7.1" lengthAdjust="spacingAndGlyphs" stroke="#1a1a1a" stroke-width="0.1">D8</text>
<text x="80.87" y="418.95" font-size="5.8" text-anchor="middle" fill="#1a1a1a" textLength="3.07" lengthAdjust="spacingAndGlyphs" stroke="#1a1a1a" stroke-width="0.1">4</text>
<line x1="93.29" y1="397.1" x2="93.29" y2="400.1" stroke="#000" stroke-width="1"/>
<text x="92.99" y="408.85" font-size="6.4" text-anchor="middle" fill="#1a1a1a" textLength="7.1" lengthAdjust="spacingAndGlyphs" stroke="#1a1a1a" stroke-width="0.1">D8</text>
<text x="93.29" y="418.95" font-size="5.8" text-anchor="middle" fill="#1a1a1a" textLength="6.14" lengthAdjust="spacingAndGlyphs" stroke="#1a1a1a" stroke-width="0.1">24</text>
<line x1="105.71" y1="397.1" x2="105.71" y2="400.1" stroke="#000" stroke-width="1"/>
<text x="105.71" y="408.85" font-size="6.4" text-anchor="middle" fill="#1a1a1a" textLength="11.66" lengthAdjust="spacingAndGlyphs" stroke="#1a1a1a" stroke-width="0.1">D28</text>
<text x="105.71" y="418.95" font-size="5.8" text-anchor="middle" fill="#1a1a1a" textLength="6.14" lengthAdjust="spacingAndGlyphs" stroke="#1a1a1a" stroke-width="0.1">24</text>
<line x1="118.13" y1="397.1" x2="118.13" y2="400.1" stroke="#000" stroke-width="1"/>
<text x="117.83" y="408.85" font-size="6.4" text-anchor="middle" fill="#1a1a1a" textLength="7.1" lengthAdjust="spacingAndGlyphs" stroke="#1a1a1a" stroke-width="0.1">D1</text>
<text x="118.13" y="418.95" font-size="5.8" text-anchor="middle" fill="#1a1a1a" textLength="3.07" lengthAdjust="spacingAndGlyphs" stroke="#1a1a1a" stroke-width="0.1">4</text>
<line x1="130.55" y1="397.1" x2="130.55" y2="400.1" stroke="#000" stroke-width="1"/>
<text x="130.25" y="408.85" font-size="6.4" text-anchor="middle" fill="#1a1a1a" textLength="7.1" lengthAdjust="spacingAndGlyphs" stroke="#1a1a1a" stroke-width="0.1">D1</text>
<text x="130.55" y="418.95" font-size="5.8" text-anchor="middle" fill="#1a1a1a" textLength="6.14" lengthAdjust="spacingAndGlyphs" stroke="#1a1a1a" stroke-width="0.1">24</text>
<line x1="142.97" y1="397.1" x2="142.97" y2="400.1" stroke="#000" stroke-width="1"/>
<text x="142.67" y="408.85" font-size="6.4" text-anchor="middle" fill="#1a1a1a" textLength="7.1" lengthAdjust="spacingAndGlyphs" stroke="#1a1a1a" stroke-width="0.1">D8</text>
<text x="142.97" y="418.95" font-size="5.8" text-anchor="middle" fill="#1a1a1a" textLength="3.07" lengthAdjust="spacingAndGlyphs" stroke="#1a1a1a" stroke-width="0.1">4</text>
<line x1="155.39" y1="397.1" x2="155.39" y2="400.1" stroke="#000" stroke-width="1"/>
<text x="155.09" y="408.85" font-size="6.4" text-anchor="middle" fill="#1a1a1a" textLength="7.1" lengthAdjust="spacingAndGlyphs" stroke="#1a1a1a" stroke-width="0.1">D8</text>
<text x="155.39" y="418.95" font-size="5.8" text-anchor="middle" fill="#1a1a1a" textLength="6.14" lengthAdjust="spacingAndGlyphs" stroke="#1a1a1a" stroke-width="0.1">24</text>
<line x1="167.81" y1="397.1" x2="167.81" y2="400.1" stroke="#000" stroke-width="1"/>
<text x="167.81" y="408.85" font-size="6.4" text-anchor="middle" fill="#1a1a1a" textLength="11.66" lengthAdjust="spacingAndGlyphs" stroke="#1a1a1a" stroke-width="0.1">D28</text>
<text x="167.81" y="418.95" font-size="5.8" text-anchor="middle" fill="#1a1a1a" textLength="6.14" lengthAdjust="spacingAndGlyphs" stroke="#1a1a1a" stroke-width="0.1">24</text>
<line x1="180.23" y1="397.1" x2="180.23" y2="400.1" stroke="#000" stroke-width="1"/>
<text x="179.93" y="408.85" font-size="6.4" text-anchor="middle" fill="#1a1a1a" textLength="7.1" lengthAdjust="spacingAndGlyphs" stroke="#1a1a1a" stroke-width="0.1">D1</text>
<text x="180.23" y="418.95" font-size="5.8" text-anchor="middle" fill="#1a1a1a" textLength="3.07" lengthAdjust="spacingAndGlyphs" stroke="#1a1a1a" stroke-width="0.1">4</text>
<line x1="192.65" y1="397.1" x2="192.65" y2="400.1" stroke="#000" stroke-width="1"/>
<text x="192.35" y="408.85" font-size="6.4" text-anchor="middle" fill="#1a1a1a" textLength="7.1" lengthAdjust="spacingAndGlyphs" stroke="#1a1a1a" stroke-width="0.1">D1</text>
<text x="192.65" y="418.95" font-size="5.8" text-anchor="middle" fill="#1a1a1a" textLength="6.14" lengthAdjust="spacingAndGlyphs" stroke="#1a1a1a" stroke-width="0.1">24</text>
<line x1="205.07" y1="397.1" x2="205.07" y2="400.1" stroke="#000" stroke-width="1"/>
<text x="204.77" y="408.85" font-size="6.4" text-anchor="middle" fill="#1a1a1a" textLength="7.1" lengthAdjust="spacingAndGlyphs" stroke="#1a1a1a" stroke-width="0.1">D8</text>
<text x="205.07" y="418.95" font-size="5.8" text-anchor="middle" fill="#1a1a1a" textLength="3.07" lengthAdjust="spacingAndGlyphs" stroke="#1a1a1a" stroke-width="0.1">4</text>
<line x1="217.49" y1="397.1" x2="217.49" y2="400.1" stroke="#000" stroke-width="1"/>
<text x="217.19" y="408.85" font-size="6.4" text-anchor="middle" fill="#1a1a1a" textLength="7.1" lengthAdjust="spacingAndGlyphs" stroke="#1a1a1a" stroke-width="0.1">D8</text>
<text x="217.49" y="418.95" font-size="5.8" text-anchor="middle" fill="#1a1a1a" textLength="6.14" lengthAdjust="spacingAndGlyphs" stroke="#1a1a1a" stroke-width="0.1">24</text>
<line x1="229.91" y1="397.1" x2="229.91" y2="400.1" stroke="#000" stroke-width="1"/>
<text x="229.91" y="408.85" font-size="6.4" text-anchor="middle" fill="#1a1a1a" textLength="11.66" lengthAdjust="spacingAndGlyphs" stroke="#1a1a1a" stroke-width="0.1">D28</text>
<text x="229.91" y="418.95" font-size="5.8" text-anchor="middle" fill="#1a1a1a" textLength="6.14" lengthAdjust="spacingAndGlyphs" stroke="#1a1a1a" stroke-width="0.1">24</text>
<text x="37.53" y="419.6" font-size="6.5" text-anchor="end" fill="#1a1a1a" textLength="17.85" lengthAdjust="spacingAndGlyphs" stroke="#1a1a1a" stroke-width="0.1">Hours:</text>
<line x1="56.3" y1="423.9" x2="108.7" y2="423.9" stroke="#5a5a5a" stroke-width="1.4"/>
<text x="81.95" y="433.03" font-size="6.5" text-anchor="middle" fill="#1a1a1a" textLength="18.03" lengthAdjust="spacingAndGlyphs" stroke="#1a1a1a" stroke-width="0.1">cycle 1</text>
<line x1="117.3" y1="423.9" x2="169.2" y2="423.9" stroke="#5a5a5a" stroke-width="1.4"/>
<text x="143.1" y="433.03" font-size="6.5" text-anchor="middle" fill="#1a1a1a" textLength="18.03" lengthAdjust="spacingAndGlyphs" stroke="#1a1a1a" stroke-width="0.1">cycle 2</text>
<line x1="179.5" y1="423.9" x2="231.1" y2="423.9" stroke="#5a5a5a" stroke-width="1.4"/>
<text x="205.3" y="433.03" font-size="6.5" text-anchor="middle" fill="#1a1a1a" textLength="18.03" lengthAdjust="spacingAndGlyphs" stroke="#1a1a1a" stroke-width="0.1">cycle 3</text>
<line x1="282.5" y1="187" x2="282.5" y2="274.4" stroke="#000" stroke-width="1"/>
<line x1="282" y1="273.9" x2="374.8" y2="273.9" stroke="#000" stroke-width="1"/>
<line x1="279.3" y1="273.9" x2="282.5" y2="273.9" stroke="#000" stroke-width="1"/>
<text x="276.2" y="276.05" font-size="6.25" text-anchor="end" fill="#1a1a1a" textLength="3.3" lengthAdjust="spacingAndGlyphs" stroke="#1a1a1a" stroke-width="0.1">0</text>
<line x1="279.3" y1="257.06" x2="282.5" y2="257.06" stroke="#000" stroke-width="1"/>
<text x="276.2" y="259.21" font-size="6.25" text-anchor="end" fill="#1a1a1a" textLength="6.6" lengthAdjust="spacingAndGlyphs" stroke="#1a1a1a" stroke-width="0.1">50</text>
<line x1="279.3" y1="240.22" x2="282.5" y2="240.22" stroke="#000" stroke-width="1"/>
<text x="276.2" y="242.37" font-size="6.25" text-anchor="end" fill="#1a1a1a" textLength="9.9" lengthAdjust="spacingAndGlyphs" stroke="#1a1a1a" stroke-width="0.1">100</text>
<line x1="279.3" y1="223.38" x2="282.5" y2="223.38" stroke="#000" stroke-width="1"/>
<text x="276.2" y="225.53" font-size="6.25" text-anchor="end" fill="#1a1a1a" textLength="9.9" lengthAdjust="spacingAndGlyphs" stroke="#1a1a1a" stroke-width="0.1">150</text>
<line x1="279.3" y1="206.54" x2="282.5" y2="206.54" stroke="#000" stroke-width="1"/>
<text x="276.2" y="208.69" font-size="6.25" text-anchor="end" fill="#1a1a1a" textLength="9.9" lengthAdjust="spacingAndGlyphs" stroke="#1a1a1a" stroke-width="0.1">200</text>
<line x1="279.3" y1="189.7" x2="282.5" y2="189.7" stroke="#000" stroke-width="1"/>
<text x="276.2" y="191.85" font-size="6.25" text-anchor="end" fill="#1a1a1a" textLength="9.9" lengthAdjust="spacingAndGlyphs" stroke="#1a1a1a" stroke-width="0.1">250</text>
<text x="328.5" y="180.8" font-size="7.4" text-anchor="middle" fill="#1a1a1a" textLength="25.73" lengthAdjust="spacingAndGlyphs" stroke="#1a1a1a" stroke-width="0.1">D1 24h</text>
<text x="259.2" y="269.2" font-size="7.5" fill="#1a1a1a" textLength="78.4" lengthAdjust="spacingAndGlyphs" transform="rotate(-90 259.2 269.2)" stroke="#1a1a1a" stroke-width="0.18">Plasma ibrutinib (nM)</text>
<line x1="297.9" y1="264" x2="297.9" y2="266.6" stroke="#222" stroke-width="1.1"/>
<line x1="293" y1="264" x2="302.8" y2="264" stroke="#3a3a3a" stroke-width="1.5"/>
<rect x="287.8" y="266.6" width="20.2" height="7.3" fill="#5f9e40" stroke="#1a1a1a" stroke-width="1"/>
<line x1="297.9" y1="273.9" x2="297.9" y2="276.7" stroke="#000" stroke-width="1"/>
<text x="297.5" y="286.1" font-size="6.55" text-anchor="middle" fill="#1a1a1a" textLength="18.93" lengthAdjust="spacingAndGlyphs" stroke="#1a1a1a" stroke-width="0.1">Cycle 1</text>
<line x1="328.4" y1="264.6" x2="328.4" y2="266.6" stroke="#222" stroke-width="1.1"/>
<line x1="323.5" y1="264.6" x2="333.3" y2="264.6" stroke="#3a3a3a" stroke-width="1.5"/>
<rect x="318.3" y="266.6" width="20.2" height="7.3" fill="#a1b273" stroke="#1a1a1a" stroke-width="1"/>
<line x1="328.4" y1="273.9" x2="328.4" y2="276.7" stroke="#000" stroke-width="1"/>
<text x="328" y="286.1" font-size="6.55" text-anchor="middle" fill="#1a1a1a" textLength="18.93" lengthAdjust="spacingAndGlyphs" stroke="#1a1a1a" stroke-width="0.1">Cycle 2</text>
<line x1="358.8" y1="269.8" x2="358.8" y2="271.2" stroke="#222" stroke-width="1.1"/>
<line x1="353.9" y1="269.8" x2="363.7" y2="269.8" stroke="#3a3a3a" stroke-width="1.5"/>
<rect x="348.7" y="271.2" width="20.2" height="2.7" fill="#bab7be" stroke="#1a1a1a" stroke-width="1"/>
<line x1="358.8" y1="273.9" x2="358.8" y2="276.7" stroke="#000" stroke-width="1"/>
<text x="358.4" y="286.1" font-size="6.55" text-anchor="middle" fill="#1a1a1a" textLength="18.93" lengthAdjust="spacingAndGlyphs" stroke="#1a1a1a" stroke-width="0.1">Cycle 3</text>
<line x1="299" y1="246" x2="357.6" y2="246" stroke="#2e2e2e" stroke-width="1.25"/>
<text x="328.1" y="243.6" font-size="5.1" text-anchor="middle" fill="#222" textLength="20.8" lengthAdjust="spacingAndGlyphs" stroke="#222" stroke-width="0.1">P = 0.003</text>
<line x1="299" y1="256.5" x2="325" y2="256.5" stroke="#2e2e2e" stroke-width="1.25"/>
<line x1="331.2" y1="256.5" x2="357.6" y2="256.5" stroke="#2e2e2e" stroke-width="1.25"/>
<text x="312.2" y="254.55" font-size="5.8" text-anchor="middle" fill="#222" textLength="5.5" lengthAdjust="spacingAndGlyphs" stroke="#222" stroke-width="0.1">ns</text>
<text x="343.8" y="254.1" font-size="5.1" text-anchor="middle" fill="#222" textLength="20.8" lengthAdjust="spacingAndGlyphs" stroke="#222" stroke-width="0.1">P = 0.008</text>
<line x1="420.6" y1="187" x2="420.6" y2="274.4" stroke="#000" stroke-width="1"/>
<line x1="420.1" y1="273.9" x2="512.9" y2="273.9" stroke="#000" stroke-width="1"/>
<line x1="417.4" y1="273.9" x2="420.6" y2="273.9" stroke="#000" stroke-width="1"/>
<text x="414.3" y="276.05" font-size="6.25" text-anchor="end" fill="#1a1a1a" textLength="3.3" lengthAdjust="spacingAndGlyphs" stroke="#1a1a1a" stroke-width="0.1">0</text>
<line x1="417.4" y1="257.06" x2="420.6" y2="257.06" stroke="#000" stroke-width="1"/>
<text x="414.3" y="259.21" font-size="6.25" text-anchor="end" fill="#1a1a1a" textLength="6.6" lengthAdjust="spacingAndGlyphs" stroke="#1a1a1a" stroke-width="0.1">50</text>
<line x1="417.4" y1="240.22" x2="420.6" y2="240.22" stroke="#000" stroke-width="1"/>
<text x="414.3" y="242.37" font-size="6.25" text-anchor="end" fill="#1a1a1a" textLength="9.9" lengthAdjust="spacingAndGlyphs" stroke="#1a1a1a" stroke-width="0.1">100</text>
<line x1="417.4" y1="223.38" x2="420.6" y2="223.38" stroke="#000" stroke-width="1"/>
<text x="414.3" y="225.53" font-size="6.25" text-anchor="end" fill="#1a1a1a" textLength="9.9" lengthAdjust="spacingAndGlyphs" stroke="#1a1a1a" stroke-width="0.1">150</text>
<line x1="417.4" y1="206.54" x2="420.6" y2="206.54" stroke="#000" stroke-width="1"/>
<text x="414.3" y="208.69" font-size="6.25" text-anchor="end" fill="#1a1a1a" textLength="9.9" lengthAdjust="spacingAndGlyphs" stroke="#1a1a1a" stroke-width="0.1">200</text>
<line x1="417.4" y1="189.7" x2="420.6" y2="189.7" stroke="#000" stroke-width="1"/>
<text x="414.3" y="191.85" font-size="6.25" text-anchor="end" fill="#1a1a1a" textLength="9.9" lengthAdjust="spacingAndGlyphs" stroke="#1a1a1a" stroke-width="0.1">250</text>
<text x="466.6" y="180.8" font-size="7.4" text-anchor="middle" fill="#1a1a1a" textLength="30.91" lengthAdjust="spacingAndGlyphs" stroke="#1a1a1a" stroke-width="0.1">D28 24h</text>
<text x="397.4" y="269.4" font-size="7.5" fill="#1a1a1a" textLength="78.4" lengthAdjust="spacingAndGlyphs" transform="rotate(-90 397.4 269.4)" stroke="#1a1a1a" stroke-width="0.18">Plasma ibrutinib (nM)</text>
<line x1="436" y1="245.7" x2="436" y2="256.2" stroke="#222" stroke-width="1.1"/>
<line x1="431.1" y1="245.7" x2="440.9" y2="245.7" stroke="#3a3a3a" stroke-width="1.5"/>
<rect x="425.9" y="256.2" width="20.2" height="17.7" fill="#5f9e40" stroke="#1a1a1a" stroke-width="1"/>
<line x1="436" y1="273.9" x2="436" y2="276.7" stroke="#000" stroke-width="1"/>
<text x="435.6" y="286.1" font-size="6.55" text-anchor="middle" fill="#1a1a1a" textLength="18.93" lengthAdjust="spacingAndGlyphs" stroke="#1a1a1a" stroke-width="0.1">Cycle 1</text>
<line x1="466.5" y1="259.4" x2="466.5" y2="265.4" stroke="#222" stroke-width="1.1"/>
<line x1="461.6" y1="259.4" x2="471.4" y2="259.4" stroke="#3a3a3a" stroke-width="1.5"/>
<rect x="456.4" y="265.4" width="20.2" height="8.5" fill="#a1b273" stroke="#1a1a1a" stroke-width="1"/>
<line x1="466.5" y1="273.9" x2="466.5" y2="276.7" stroke="#000" stroke-width="1"/>
<text x="466.1" y="286.1" font-size="6.55" text-anchor="middle" fill="#1a1a1a" textLength="18.93" lengthAdjust="spacingAndGlyphs" stroke="#1a1a1a" stroke-width="0.1">Cycle 2</text>
<line x1="496.9" y1="269.3" x2="496.9" y2="270.7" stroke="#222" stroke-width="1.1"/>
<line x1="492" y1="269.3" x2="501.8" y2="269.3" stroke="#3a3a3a" stroke-width="1.5"/>
<rect x="486.8" y="270.7" width="20.2" height="3.2" fill="#bab7be" stroke="#1a1a1a" stroke-width="1"/>
<line x1="496.9" y1="273.9" x2="496.9" y2="276.7" stroke="#000" stroke-width="1"/>
<text x="496.5" y="286.1" font-size="6.55" text-anchor="middle" fill="#1a1a1a" textLength="18.93" lengthAdjust="spacingAndGlyphs" stroke="#1a1a1a" stroke-width="0.1">Cycle 3</text>
<line x1="437.1" y1="229.9" x2="495.7" y2="229.9" stroke="#2e2e2e" stroke-width="1.25"/>
<text x="466.2" y="227.5" font-size="5.1" text-anchor="middle" fill="#222" textLength="20.8" lengthAdjust="spacingAndGlyphs" stroke="#222" stroke-width="0.1">P = 0.004</text>
<line x1="437.1" y1="240.6" x2="463.1" y2="240.6" stroke="#2e2e2e" stroke-width="1.25"/>
<line x1="469.3" y1="240.6" x2="495.7" y2="240.6" stroke="#2e2e2e" stroke-width="1.25"/>
<text x="450.3" y="238.65" font-size="5.8" text-anchor="middle" fill="#222" textLength="5.5" lengthAdjust="spacingAndGlyphs" stroke="#222" stroke-width="0.1">ns</text>
<text x="482.2" y="238.65" font-size="5.8" text-anchor="middle" fill="#222" textLength="5.5" lengthAdjust="spacingAndGlyphs" stroke="#222" stroke-width="0.1">ns</text>
<line x1="282.5" y1="334.2" x2="282.5" y2="421.6" stroke="#000" stroke-width="1"/>
<line x1="282" y1="421.1" x2="374.8" y2="421.1" stroke="#000" stroke-width="1"/>
<line x1="279.3" y1="421.1" x2="282.5" y2="421.1" stroke="#000" stroke-width="1"/>
<text x="276.2" y="423.25" font-size="6.25" text-anchor="end" fill="#1a1a1a" textLength="3.3" lengthAdjust="spacingAndGlyphs" stroke="#1a1a1a" stroke-width="0.1">0</text>
<line x1="279.3" y1="404.26" x2="282.5" y2="404.26" stroke="#000" stroke-width="1"/>
<text x="276.2" y="406.41" font-size="6.25" text-anchor="end" fill="#1a1a1a" textLength="6.6" lengthAdjust="spacingAndGlyphs" stroke="#1a1a1a" stroke-width="0.1">50</text>
<line x1="279.3" y1="387.42" x2="282.5" y2="387.42" stroke="#000" stroke-width="1"/>
<text x="276.2" y="389.57" font-size="6.25" text-anchor="end" fill="#1a1a1a" textLength="9.9" lengthAdjust="spacingAndGlyphs" stroke="#1a1a1a" stroke-width="0.1">100</text>
<line x1="279.3" y1="370.58" x2="282.5" y2="370.58" stroke="#000" stroke-width="1"/>
<text x="276.2" y="372.73" font-size="6.25" text-anchor="end" fill="#1a1a1a" textLength="9.9" lengthAdjust="spacingAndGlyphs" stroke="#1a1a1a" stroke-width="0.1">150</text>
<line x1="279.3" y1="353.74" x2="282.5" y2="353.74" stroke="#000" stroke-width="1"/>
<text x="276.2" y="355.89" font-size="6.25" text-anchor="end" fill="#1a1a1a" textLength="9.9" lengthAdjust="spacingAndGlyphs" stroke="#1a1a1a" stroke-width="0.1">200</text>
<line x1="279.3" y1="336.9" x2="282.5" y2="336.9" stroke="#000" stroke-width="1"/>
<text x="276.2" y="339.05" font-size="6.25" text-anchor="end" fill="#1a1a1a" textLength="9.9" lengthAdjust="spacingAndGlyphs" stroke="#1a1a1a" stroke-width="0.1">250</text>
<text x="328.5" y="328.3" font-size="7.4" text-anchor="middle" fill="#1a1a1a" textLength="25.73" lengthAdjust="spacingAndGlyphs" stroke="#1a1a1a" stroke-width="0.1">D1 24h</text>
<text x="259.5" y="426.2" font-size="7.5" fill="#1a1a1a" textLength="96.4" lengthAdjust="spacingAndGlyphs" transform="rotate(-90 259.5 426.2)" stroke="#1a1a1a" stroke-width="0.18">Intracellular ibrutinib (nM)</text>
<line x1="297.9" y1="412.6" x2="297.9" y2="414.3" stroke="#222" stroke-width="1.1"/>
<line x1="293" y1="412.6" x2="302.8" y2="412.6" stroke="#3a3a3a" stroke-width="1.5"/>
<rect x="287.8" y="414.3" width="20.2" height="6.8" fill="#5f9e40" stroke="#1a1a1a" stroke-width="1"/>
<line x1="297.9" y1="421.1" x2="297.9" y2="423.9" stroke="#000" stroke-width="1"/>
<text x="297.5" y="433.3" font-size="6.55" text-anchor="middle" fill="#1a1a1a" textLength="18.93" lengthAdjust="spacingAndGlyphs" stroke="#1a1a1a" stroke-width="0.1">Cycle 1</text>
<line x1="328.4" y1="413.8" x2="328.4" y2="415.3" stroke="#222" stroke-width="1.1"/>
<line x1="323.5" y1="413.8" x2="333.3" y2="413.8" stroke="#3a3a3a" stroke-width="1.5"/>
<rect x="318.3" y="415.3" width="20.2" height="5.8" fill="#a1b273" stroke="#1a1a1a" stroke-width="1"/>
<line x1="328.4" y1="421.1" x2="328.4" y2="423.9" stroke="#000" stroke-width="1"/>
<text x="328" y="433.3" font-size="6.55" text-anchor="middle" fill="#1a1a1a" textLength="18.93" lengthAdjust="spacingAndGlyphs" stroke="#1a1a1a" stroke-width="0.1">Cycle 2</text>
<line x1="358.8" y1="417.8" x2="358.8" y2="418.2" stroke="#222" stroke-width="1.1"/>
<line x1="353.9" y1="417.8" x2="363.7" y2="417.8" stroke="#3a3a3a" stroke-width="1.5"/>
<rect x="348.7" y="418.2" width="20.2" height="2.9" fill="#8d8c92" stroke="#1a1a1a" stroke-width="1"/>
<line x1="358.8" y1="421.1" x2="358.8" y2="423.9" stroke="#000" stroke-width="1"/>
<text x="358.4" y="433.3" font-size="6.55" text-anchor="middle" fill="#1a1a1a" textLength="18.93" lengthAdjust="spacingAndGlyphs" stroke="#1a1a1a" stroke-width="0.1">Cycle 3</text>
<line x1="299" y1="393.3" x2="357.6" y2="393.3" stroke="#2e2e2e" stroke-width="1.25"/>
<text x="328.4" y="391.35" font-size="5.8" text-anchor="middle" fill="#222" textLength="5.5" lengthAdjust="spacingAndGlyphs" stroke="#222" stroke-width="0.1">ns</text>
<line x1="299" y1="403.5" x2="325" y2="403.5" stroke="#2e2e2e" stroke-width="1.25"/>
<line x1="331.2" y1="403.5" x2="357.6" y2="403.5" stroke="#2e2e2e" stroke-width="1.25"/>
<text x="312.2" y="401.55" font-size="5.8" text-anchor="middle" fill="#222" textLength="5.5" lengthAdjust="spacingAndGlyphs" stroke="#222" stroke-width="0.1">ns</text>
<text x="343.8" y="401.1" font-size="5.1" text-anchor="middle" fill="#222" textLength="20.8" lengthAdjust="spacingAndGlyphs" stroke="#222" stroke-width="0.1">P = 0.031</text>
<line x1="420.6" y1="334.2" x2="420.6" y2="421.6" stroke="#000" stroke-width="1"/>
<line x1="420.1" y1="421.1" x2="512.9" y2="421.1" stroke="#000" stroke-width="1"/>
<line x1="417.4" y1="421.1" x2="420.6" y2="421.1" stroke="#000" stroke-width="1"/>
<text x="414.3" y="423.25" font-size="6.25" text-anchor="end" fill="#1a1a1a" textLength="3.3" lengthAdjust="spacingAndGlyphs" stroke="#1a1a1a" stroke-width="0.1">0</text>
<line x1="417.4" y1="404.26" x2="420.6" y2="404.26" stroke="#000" stroke-width="1"/>
<text x="414.3" y="406.41" font-size="6.25" text-anchor="end" fill="#1a1a1a" textLength="6.6" lengthAdjust="spacingAndGlyphs" stroke="#1a1a1a" stroke-width="0.1">50</text>
<line x1="417.4" y1="387.42" x2="420.6" y2="387.42" stroke="#000" stroke-width="1"/>
<text x="414.3" y="389.57" font-size="6.25" text-anchor="end" fill="#1a1a1a" textLength="9.9" lengthAdjust="spacingAndGlyphs" stroke="#1a1a1a" stroke-width="0.1">100</text>
<line x1="417.4" y1="370.58" x2="420.6" y2="370.58" stroke="#000" stroke-width="1"/>
<text x="414.3" y="372.73" font-size="6.25" text-anchor="end" fill="#1a1a1a" textLength="9.9" lengthAdjust="spacingAndGlyphs" stroke="#1a1a1a" stroke-width="0.1">150</text>
<line x1="417.4" y1="353.74" x2="420.6" y2="353.74" stroke="#000" stroke-width="1"/>
<text x="414.3" y="355.89" font-size="6.25" text-anchor="end" fill="#1a1a1a" textLength="9.9" lengthAdjust="spacingAndGlyphs" stroke="#1a1a1a" stroke-width="0.1">200</text>
<line x1="417.4" y1="336.9" x2="420.6" y2="336.9" stroke="#000" stroke-width="1"/>
<text x="414.3" y="339.05" font-size="6.25" text-anchor="end" fill="#1a1a1a" textLength="9.9" lengthAdjust="spacingAndGlyphs" stroke="#1a1a1a" stroke-width="0.1">250</text>
<text x="466.6" y="328.3" font-size="7.4" text-anchor="middle" fill="#1a1a1a" textLength="30.91" lengthAdjust="spacingAndGlyphs" stroke="#1a1a1a" stroke-width="0.1">D28 24h</text>
<text x="397.4" y="425.8" font-size="7.5" fill="#1a1a1a" textLength="96.4" lengthAdjust="spacingAndGlyphs" transform="rotate(-90 397.4 425.8)" stroke="#1a1a1a" stroke-width="0.18">Intracellular ibrutinib (nM)</text>
<line x1="436" y1="411.1" x2="436" y2="414.3" stroke="#222" stroke-width="1.1"/>
<line x1="431.1" y1="411.1" x2="440.9" y2="411.1" stroke="#3a3a3a" stroke-width="1.5"/>
<rect x="425.9" y="414.3" width="20.2" height="6.8" fill="#5f9e40" stroke="#1a1a1a" stroke-width="1"/>
<line x1="436" y1="421.1" x2="436" y2="423.9" stroke="#000" stroke-width="1"/>
<text x="435.6" y="433.3" font-size="6.55" text-anchor="middle" fill="#1a1a1a" textLength="18.93" lengthAdjust="spacingAndGlyphs" stroke="#1a1a1a" stroke-width="0.1">Cycle 1</text>
<line x1="466.5" y1="415.9" x2="466.5" y2="416.8" stroke="#222" stroke-width="1.1"/>
<line x1="461.6" y1="415.9" x2="471.4" y2="415.9" stroke="#3a3a3a" stroke-width="1.5"/>
<rect x="456.4" y="416.8" width="20.2" height="4.3" fill="#a1b273" stroke="#1a1a1a" stroke-width="1"/>
<line x1="466.5" y1="421.1" x2="466.5" y2="423.9" stroke="#000" stroke-width="1"/>
<text x="466.1" y="433.3" font-size="6.55" text-anchor="middle" fill="#1a1a1a" textLength="18.93" lengthAdjust="spacingAndGlyphs" stroke="#1a1a1a" stroke-width="0.1">Cycle 2</text>
<line x1="496.9" y1="417.2" x2="496.9" y2="418" stroke="#222" stroke-width="1.1"/>
<line x1="492" y1="417.2" x2="501.8" y2="417.2" stroke="#3a3a3a" stroke-width="1.5"/>
<rect x="486.8" y="418" width="20.2" height="3.1" fill="#bab7be" stroke="#1a1a1a" stroke-width="1"/>
<line x1="496.9" y1="421.1" x2="496.9" y2="423.9" stroke="#000" stroke-width="1"/>
<text x="496.5" y="433.3" font-size="6.55" text-anchor="middle" fill="#1a1a1a" textLength="18.93" lengthAdjust="spacingAndGlyphs" stroke="#1a1a1a" stroke-width="0.1">Cycle 3</text>
<line x1="437.1" y1="393.5" x2="495.7" y2="393.5" stroke="#2e2e2e" stroke-width="1.25"/>
<text x="466.5" y="391.55" font-size="5.8" text-anchor="middle" fill="#222" textLength="5.5" lengthAdjust="spacingAndGlyphs" stroke="#222" stroke-width="0.1">ns</text>
<line x1="437.1" y1="403.6" x2="463.1" y2="403.6" stroke="#2e2e2e" stroke-width="1.25"/>
<line x1="469.3" y1="403.6" x2="495.7" y2="403.6" stroke="#2e2e2e" stroke-width="1.25"/>
<text x="450.3" y="401.65" font-size="5.8" text-anchor="middle" fill="#222" textLength="5.5" lengthAdjust="spacingAndGlyphs" stroke="#222" stroke-width="0.1">ns</text>
<text x="482.2" y="401.65" font-size="5.8" text-anchor="middle" fill="#222" textLength="5.5" lengthAdjust="spacingAndGlyphs" stroke="#222" stroke-width="0.1">ns</text>
</svg>
</body></html>
